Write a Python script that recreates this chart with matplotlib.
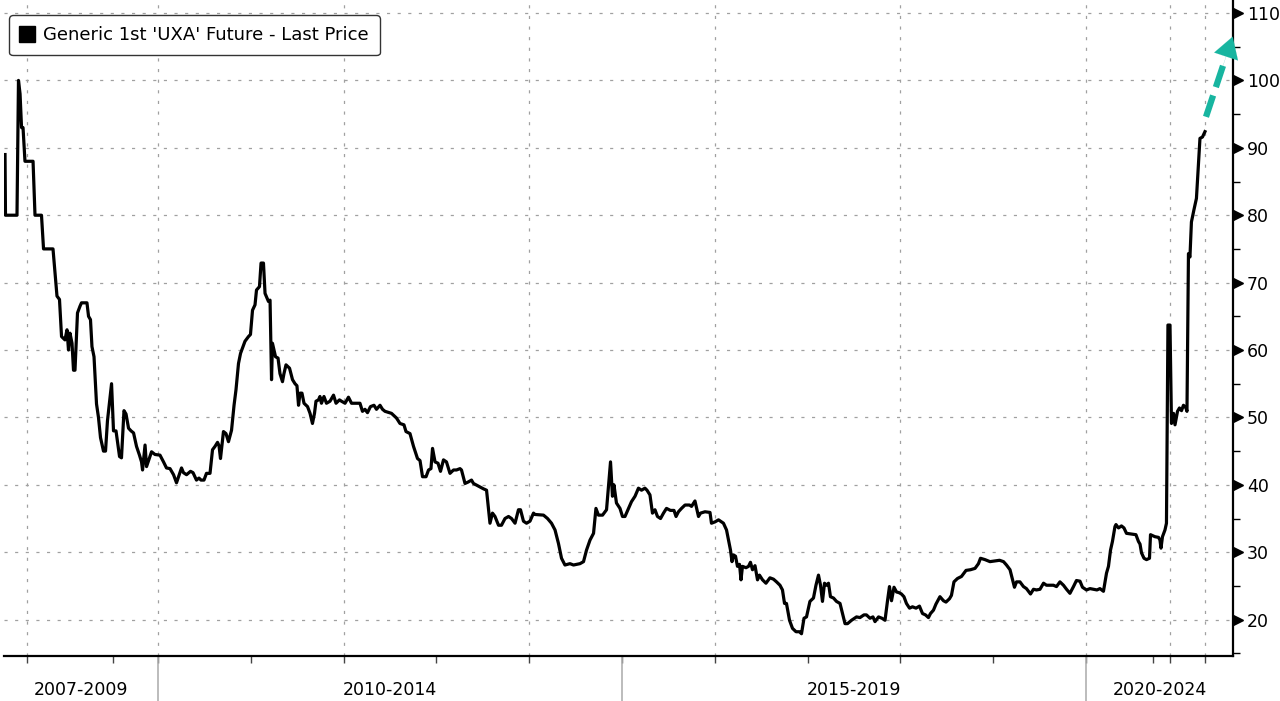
import matplotlib
matplotlib.use("Agg")
import matplotlib.pyplot as plt
from matplotlib.lines import Line2D
import matplotlib.transforms as mtransforms

# ---- data (axis position in years on the chart's own scale, price) ----
t = [2008.351, 2008.356, 2008.480, 2008.496, 2008.513, 2008.529, 2008.545, 2008.566, 2008.653, 2008.674,
     2008.744, 2008.766, 2008.868, 2008.911, 2008.938, 2008.960, 2008.997, 2009.019, 2009.035, 2009.051,
     2009.073, 2009.089, 2009.105, 2009.132, 2009.159, 2009.175, 2009.234, 2009.251, 2009.272, 2009.288,
     2009.310, 2009.337, 2009.358, 2009.380, 2009.412, 2009.434, 2009.455, 2009.499, 2009.520, 2009.547,
     2009.585, 2009.606, 2009.633, 2009.655, 2009.682, 2009.709, 2009.736, 2009.768, 2009.800, 2009.822,
     2009.833, 2009.860, 2009.876, 2009.908, 2009.930, 2009.967, 2010.021, 2010.059, 2010.091, 2010.129,
     2010.167, 2010.199, 2010.253, 2010.274, 2010.307, 2010.350, 2010.377, 2010.414, 2010.441, 2010.463,
     2010.495, 2010.522, 2010.560, 2010.587, 2010.614, 2010.641, 2010.657, 2010.673, 2010.705, 2010.732,
     2010.759, 2010.792, 2010.819, 2010.840, 2010.867, 2010.889, 2010.937, 2010.975, 2010.996, 2011.018,
     2011.045, 2011.061, 2011.093, 2011.110, 2011.136, 2011.153, 2011.190, 2011.207, 2011.223, 2011.233,
     2011.250, 2011.266, 2011.293, 2011.314, 2011.341, 2011.357, 2011.379, 2011.417, 2011.449, 2011.476,
     2011.497, 2011.514, 2011.530, 2011.551, 2011.573, 2011.611, 2011.638, 2011.664, 2011.686, 2011.702,
     2011.729, 2011.745, 2011.761, 2011.788, 2011.815, 2011.853, 2011.891, 2011.918, 2011.955, 2011.977,
     2012.015, 2012.052, 2012.085, 2012.176, 2012.203, 2012.230, 2012.257, 2012.289, 2012.327, 2012.354,
     2012.392, 2012.419, 2012.446, 2012.516, 2012.570, 2012.607, 2012.650, 2012.672, 2012.715, 2012.753,
     2012.796, 2012.823, 2012.850, 2012.888, 2012.915, 2012.941, 2012.958, 2012.985, 2013.017, 2013.044,
     2013.076, 2013.108, 2013.146, 2013.184, 2013.216, 2013.254, 2013.270, 2013.308, 2013.340, 2013.378,
     2013.399, 2013.453, 2013.507, 2013.540, 2013.577, 2013.604, 2013.631, 2013.669, 2013.701, 2013.739,
     2013.777, 2013.809, 2013.847, 2013.884, 2013.906, 2013.938, 2013.971, 2014.008, 2014.046, 2014.062,
     2014.154, 2014.197, 2014.240, 2014.278, 2014.315, 2014.348, 2014.385, 2014.439, 2014.477, 2014.547,
     2014.585, 2014.617, 2014.655, 2014.693, 2014.719, 2014.746, 2014.790, 2014.833, 2014.854, 2014.876,
     2014.897, 2014.913, 2014.940, 2014.978, 2015.005, 2015.032, 2015.070, 2015.102, 2015.140, 2015.177,
     2015.210, 2015.247, 2015.269, 2015.301, 2015.328, 2015.355, 2015.382, 2015.415, 2015.447, 2015.479,
     2015.522, 2015.560, 2015.582, 2015.608, 2015.641, 2015.679, 2015.727, 2015.749, 2015.786, 2015.824,
     2015.846, 2015.894, 2015.948, 2015.964, 2016.002, 2016.040, 2016.093, 2016.126, 2016.147, 2016.169,
     2016.185, 2016.201, 2016.223, 2016.244, 2016.266, 2016.282, 2016.298, 2016.336, 2016.363, 2016.384,
     2016.406, 2016.433, 2016.460, 2016.481, 2016.514, 2016.551, 2016.594, 2016.632, 2016.665, 2016.702,
     2016.729, 2016.751, 2016.772, 2016.805, 2016.837, 2016.875, 2016.912, 2016.934, 2016.961, 2016.988,
     2017.025, 2017.063, 2017.090, 2017.117, 2017.139, 2017.160, 2017.182, 2017.203, 2017.225, 2017.246,
     2017.279, 2017.311, 2017.349, 2017.376, 2017.403, 2017.430, 2017.473, 2017.527, 2017.564, 2017.607,
     2017.634, 2017.672, 2017.704, 2017.726, 2017.764, 2017.801, 2017.834, 2017.861, 2017.882, 2017.904,
     2017.931, 2017.958, 2017.985, 2018.011, 2018.038, 2018.065, 2018.098, 2018.130, 2018.168, 2018.205,
     2018.238, 2018.270, 2018.302, 2018.324, 2018.356, 2018.383, 2018.426, 2018.464, 2018.491, 2018.529,
     2018.550, 2018.577, 2018.615, 2018.658, 2018.707, 2018.755, 2018.804, 2018.841, 2018.863, 2018.911,
     2018.965, 2019.019, 2019.068, 2019.111, 2019.143, 2019.181, 2019.208, 2019.229, 2019.251, 2019.288,
     2019.326, 2019.358, 2019.402, 2019.434, 2019.466, 2019.504, 2019.542, 2019.574, 2019.649, 2019.682,
     2019.719, 2019.757, 2019.790, 2019.827, 2019.865, 2019.897, 2019.935, 2019.962, 2020.005, 2020.043,
     2020.080, 2020.118, 2020.150, 2020.188, 2020.221, 2020.242, 2020.264, 2020.285, 2020.312, 2020.323,
     2020.350, 2020.382, 2020.409, 2020.436, 2020.490, 2020.538, 2020.565, 2020.582, 2020.598, 2020.625,
     2020.652, 2020.684, 2020.695, 2020.743, 2020.781, 2020.797, 2020.808, 2020.824, 2020.851, 2020.867,
     2020.883, 2020.905, 2020.921, 2020.943, 2020.959, 2020.986, 2021.007, 2021.029, 2021.050, 2021.077,
     2021.088, 2021.104, 2021.120, 2021.136, 2021.163, 2021.190, 2021.228, 2021.255, 2021.282]

price = [89, 80, 80, 100, 98, 93, 93, 88, 88, 80,
         80, 75, 75, 68, 67.5, 62, 61.5, 63, 60, 62.5,
         61, 57, 57, 65.5, 66.5, 67, 67, 65, 64.5, 60.5,
         59, 52, 50, 47, 45, 45, 49.5, 55, 48, 48,
         44.2, 44, 51, 50.5, 48.4, 48, 47.7, 45.7, 44.4, 43.4,
         42.2, 45.9, 42.7, 44, 44.9, 44.5, 44.4, 43.4, 42.5, 42.4,
         41.5, 40.3, 42.5, 41.8, 41.5, 42, 41.8, 40.7, 41, 40.7,
         40.7, 41.7, 41.7, 45.2, 45.7, 46.3, 45.8, 43.9, 47.9, 47.6,
         46.4, 48.1, 51.8, 54.1, 58, 59.5, 61.3, 62, 62.3, 65.9,
         66.7, 68.9, 69.4, 72.9, 72.9, 68.4, 67.2, 67.4, 55.6, 61,
         60, 59, 58.8, 56.5, 55.3, 56.5, 57.8, 57.3, 55.6, 55,
         54.7, 51.8, 53.6, 53.6, 52.1, 51.6, 50.6, 49.1, 50.6, 52.4,
         52.6, 53.1, 52.1, 53.1, 52.1, 52.4, 53.3, 52.1, 52.6, 52.4,
         52.1, 53, 52.1, 52.1, 50.9, 51.2, 50.7, 51.6, 51.8, 51.2,
         51.8, 51.2, 50.9, 50.6, 49.9, 49.1, 48.9, 47.9, 47.6, 45.7,
         43.9, 43.6, 41.2, 41.2, 42.2, 42.4, 45.4, 43.4, 43.2, 42,
         43.7, 43.4, 41.7, 42.2, 42.2, 42.4, 42.2, 40.2, 40.4, 40.7,
         40.2, 39.8, 39.4, 39.2, 34.3, 35.8, 35.3, 34, 34, 35,
         35.3, 35, 34.3, 36.3, 36.3, 34.6, 34.3, 34.6, 35.8, 35.6,
         35.5, 35, 34.3, 33.3, 31.3, 29.1, 28.1, 28.3, 28.1, 28.3,
         28.6, 30.3, 31.8, 32.8, 36.5, 35.5, 35.5, 36.3, 39.7, 43.4,
         38.3, 40, 37.3, 36.5, 35.3, 35.3, 36.5, 37.5, 38.3, 39.5,
         39.2, 39.5, 39.2, 38.5, 35.8, 36.3, 35.3, 35, 35.8, 36.5,
         36.2, 36.2, 35.3, 36, 36.5, 37, 37, 36.8, 37.6, 35.3,
         35.8, 36, 35.9, 34.3, 34.5, 34.8, 34.3, 33.3, 31.8, 30.3,
         28.6, 29.6, 29.4, 27.9, 28.2, 25.9, 27.9, 27.7, 27.9, 28.5,
         27.4, 28, 25.9, 26.6, 25.9, 25.4, 26.2, 26, 25.6, 25.1,
         24.4, 22.4, 22.4, 19.9, 18.7, 18.2, 18.2, 17.9, 20.2, 20.4,
         22.7, 23.2, 25.1, 26.6, 25.1, 22.7, 25.4, 25.1, 25.4, 23.4,
         23.2, 22.7, 22.4, 20.9, 19.4, 19.4, 19.9, 20.4, 20.3, 20.7,
         20.7, 20.2, 20.4, 19.7, 20.4, 20.2, 19.9, 22.8, 24.9, 22.8,
         24.8, 24.1, 24, 23.8, 23.4, 22.4, 21.7, 21.9, 21.7, 22,
         20.9, 20.7, 20.3, 20.9, 21.4, 22.3, 23.4, 22.8, 22.6, 23.1,
         23.6, 25.6, 26.1, 26.4, 27.3, 27.4, 27.6, 28.3, 29.1, 28.9,
         28.6, 28.7, 28.8, 28.6, 28.1, 27.4, 25.9, 24.8, 25.6, 25.6,
         24.9, 24.6, 23.8, 24.5, 24.4, 24.5, 25.4, 25.1, 25.1, 24.9,
         25.6, 25.1, 24.5, 23.9, 24.9, 25.8, 25.7, 24.8, 24.4, 24.6,
         24.5, 24.4, 24.6, 24.2, 26.9, 27.9, 30.3, 31.6, 33.8, 34.1,
         33.6, 33.9, 33.6, 32.8, 32.7, 32.6, 31.6, 31.2, 29.9, 29.1,
         28.9, 29.1, 32.6, 32.3, 32.2, 31.8, 30.6, 32.3, 33.3, 34.3,
         63.7, 63.7, 49.1, 50.6, 48.9, 50.9, 51.4, 51, 51.8, 51.4,
         50.9, 74.3, 73.8, 79, 80.8, 82.5, 91.4, 91.6, 92.4]

series_label = "Generic 1st 'UXA' Future - Last Price"
group_labels = ["2007-2009", "2010-2014", "2015-2019", "2020-2024"]
group_bounds = [2008.340, 2010.0, 2015.0, 2020.0, 2021.584]
y_ticks = [20, 30, 40, 50, 60, 70, 80, 90, 100, 110]
y_minor = [15, 25, 35, 45, 55, 65, 75, 85, 95, 105]
x_ticks = [2008.59, 2009.51, 2010.0, 2011.0, 2012.0, 2013.0, 2014.0, 2015.0, 2016.0,
           2017.0, 2018.0, 2019.0, 2020.0, 2020.72, 2020.9, 2021.28]
x_grid = [2008.59, 2010.0, 2012.0, 2014.0, 2016.0, 2018.0, 2020.0, 2020.9, 2021.28]
arrow_start = (2021.293, 94.6)
arrow_tip = (2021.581, 106.5)

# ---- figure ----
W, H = 1280, 701
fig = plt.figure(figsize=(W / 100, H / 100), dpi=100)
ax = fig.add_axes([4 / W, 45 / H, (1233 - 4) / W, 656 / H])
ax.set_xlim(group_bounds[0], group_bounds[-1])
ax.set_ylim(14.6, 111.93)

grid_kw = dict(color="#a0a0a0", lw=0.9, linestyle=(0, (2.5, 6)), zorder=1)
for yv in y_ticks:
    ax.axhline(yv, **grid_kw)
for xv in x_grid:
    ax.axvline(xv, **grid_kw)

ax.plot(t, price, color="black", lw=2.3, solid_joinstyle="round", zorder=3)

# spines
for s in ["left", "top"]:
    ax.spines[s].set_visible(False)
ax.spines["right"].set_linewidth(1.6)
ax.spines["bottom"].set_linewidth(1.6)

# y axis on right
ax.yaxis.tick_right()
ax.set_yticks(y_ticks)
ax.set_yticklabels([str(v) for v in y_ticks], fontsize=12.5)
ax.set_yticks(y_minor, minor=True)
ax.tick_params(axis="y", which="major", length=0, pad=10)
ax.tick_params(axis="y", which="minor", length=5, width=1, direction="out", colors="black")
# Bloomberg-style triangle ticks, sitting just right of the axis line
ax.plot([1.0 + 4.5 / 1229] * len(y_ticks), y_ticks, linestyle="none", marker=">", markersize=6.5,
        color="black", transform=mtransforms.blended_transform_factory(ax.transAxes, ax.transData),
        clip_on=False, zorder=5)

# x axis
ax.set_xticks(x_ticks)
ax.set_xticklabels([])
ax.tick_params(axis="x", which="major", length=5, width=1, direction="out", color="#444444")

trans = mtransforms.blended_transform_factory(ax.transData, ax.transAxes)
for xv in group_bounds[1:-1]:
    ax.plot([xv, xv], [0, -45 / 656], color="#b0b0b0", lw=1.2, transform=trans, clip_on=False)
for i, lab in enumerate(group_labels):
    xc = (group_bounds[i] + group_bounds[i + 1]) / 2
    ax.text(xc, -34 / 656, lab, transform=trans, ha="center", va="center", fontsize=12.5)

# arrow
ax.plot([arrow_start[0], arrow_start[0] + (arrow_tip[0] - arrow_start[0]) * 0.72],
        [arrow_start[1], arrow_start[1] + (arrow_tip[1] - arrow_start[1]) * 0.72],
        color="#17b5a0", lw=4.5, dashes=(3.6, 1.4), solid_capstyle="butt", zorder=4, clip_on=False)
ax.annotate("", xy=arrow_tip,
            xytext=(arrow_start[0] + (arrow_tip[0] - arrow_start[0]) * 0.6,
                    arrow_start[1] + (arrow_tip[1] - arrow_start[1]) * 0.6),
            arrowprops=dict(arrowstyle="-|>,head_length=0.5,head_width=0.3", color="#17b5a0",
                            lw=0.1, mutation_scale=30, shrinkA=0, shrinkB=0),
            annotation_clip=False, zorder=4)

# legend
handle = Line2D([], [], linestyle="none", marker="s", markersize=12, color="black")
leg = ax.legend([handle], [series_label], loc="upper left", bbox_to_anchor=(5 / 1229, 1 - 15 / 656),
                borderaxespad=0, fontsize=13, frameon=True, fancybox=True, handlelength=0.8,
                handletextpad=0.45, borderpad=0.62)
leg.get_frame().set_edgecolor("#333333")
leg.get_frame().set_linewidth(1.0)
leg.get_frame().set_alpha(1)

fig.savefig("out.png", dpi=100)
